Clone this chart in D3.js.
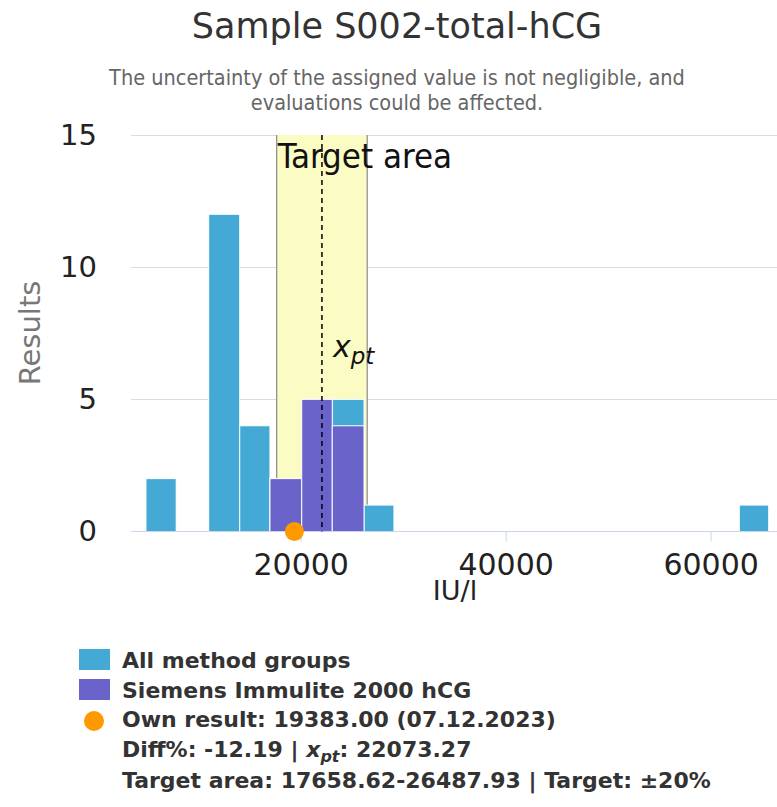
<!DOCTYPE html>
<html>
<head>
<meta charset="utf-8">
<script src="https://cdn.jsdelivr.net/npm/d3@7"></script>
<style>
  body { margin: 0; background: #fff; }
  text { font-family: "DejaVu Sans", sans-serif; }
</style>
</head>
<body>
<svg id="chart" width="777" height="807"></svg>
<script>
// histogram bins (IU/l)
const binStart = [4900, 11020, 14050, 17000, 20100, 23080, 26180, 62800];
const binEnd = [7850, 14050, 17000, 20100, 23080, 26180, 29100, 65670];
const allCounts = [2, 12, 4, 2, 5, 5, 1, 1];
const methodCounts = [0, 0, 0, 2, 5, 4, 0, 0];

const xTicks = [20000, 40000, 60000];
const yTicks = [0, 5, 10, 15];

const ownResult = 19383.0;
const xpt = 22073.27;
const targetLow = 17658.62;
const targetHigh = 26487.93;

const legendLines = [
  "All method groups",
  "Siemens Immulite 2000 hCG",
  "Own result: 19383.00 (07.12.2023)",
  "Diff%: -12.19 | XPT: 22073.27",
  "Target area: 17658.62-26487.93 | Target: ±20%"
];

const blue = "#45a9d5", purple = "#6a63c9", orange = "#ff9900";

const svg = d3.select("#chart");
svg.append("rect").attr("width", 777).attr("height", 807).attr("fill", "#fff");

const x = d3.scaleLinear().domain([3440, 66480]).range([131, 777]);
const y = d3.scaleLinear().domain([0, 15]).range([531.5, 135]);

// title + subtitle
svg.append("text")
  .attr("x", 397).attr("y", 38)
  .attr("text-anchor", "middle")
  .style("font-size", "35px").attr("fill", "#333")
  .text("Sample S002-total-hCG");

const sub = svg.append("text")
  .attr("text-anchor", "middle")
  .style("font-size", "21.5px").style("font-stretch", "condensed")
  .attr("fill", "#666");
sub.append("tspan").attr("x", 397).attr("y", 85)
  .text("The uncertainty of the assigned value is not negligible, and");
sub.append("tspan").attr("x", 397).attr("y", 110)
  .text("evaluations could be affected.");

// grid
svg.append("g")
  .selectAll("line")
  .data(yTicks.filter(d => d > 0))
  .join("line")
  .attr("x1", 131).attr("x2", 777)
  .attr("y1", d => Math.round(y(d)) + 0.5).attr("y2", d => Math.round(y(d)) + 0.5)
  .attr("stroke", "#dcdcdc");

// target area
svg.append("rect")
  .attr("x", x(targetLow)).attr("y", y(15))
  .attr("width", x(targetHigh) - x(targetLow))
  .attr("height", y(0) - y(15))
  .attr("fill", "#fbfcc4");
svg.selectAll("line.tgt")
  .data([targetLow, targetHigh])
  .join("line")
  .attr("class", "tgt")
  .attr("x1", d => x(d)).attr("x2", d => x(d))
  .attr("y1", y(15)).attr("y2", y(0))
  .attr("stroke", "#888").attr("stroke-width", 1.2);

// bars
const bins = binStart.map((s, i) => ({ s, e: binEnd[i], all: allCounts[i], m: methodCounts[i] }));
svg.append("g")
  .selectAll("rect")
  .data(bins)
  .join("rect")
  .attr("x", d => x(d.s)).attr("width", d => x(d.e) - x(d.s))
  .attr("y", d => y(d.all)).attr("height", d => y(0) - y(d.all))
  .attr("fill", blue).attr("stroke", "#fff").attr("stroke-width", 1);
svg.append("g")
  .selectAll("rect")
  .data(bins.filter(d => d.m > 0))
  .join("rect")
  .attr("x", d => x(d.s)).attr("width", d => x(d.e) - x(d.s))
  .attr("y", d => y(d.m)).attr("height", d => y(0) - y(d.m))
  .attr("fill", purple).attr("stroke", "#fff").attr("stroke-width", 1);

// x axis
const xAxis = svg.append("g")
  .attr("transform", `translate(0,${y(0)})`)
  .call(d3.axisBottom(x).tickValues(xTicks).tickSize(10).tickPadding(12).tickFormat(d3.format("d")));
xAxis.select(".domain").remove();
xAxis.selectAll("line").attr("stroke", "#ccd6eb");
xAxis.selectAll("text").style("font-size", "30px").attr("fill", "#222")
  .attr("dy", "0.71em");
svg.append("line")
  .attr("x1", 131).attr("x2", 777).attr("y1", y(0)).attr("y2", y(0))
  .attr("stroke", "#ccd6eb");

svg.append("text")
  .attr("x", 455).attr("y", 600).attr("text-anchor", "middle")
  .style("font-size", "27px").attr("fill", "#222").text("IU/l");

// y axis
const yAxis = svg.append("g")
  .attr("transform", "translate(131,0)")
  .call(d3.axisLeft(y).tickValues(yTicks).tickSize(0).tickPadding(34));
yAxis.select(".domain").remove();
yAxis.selectAll("text").style("font-size", "29px").attr("fill", "#222");

svg.append("text")
  .attr("transform", "translate(40,333) rotate(-90)")
  .attr("text-anchor", "middle")
  .style("font-size", "29px").attr("fill", "#777").text("Results");

// xpt line + labels
svg.append("line")
  .attr("x1", x(xpt)).attr("x2", x(xpt))
  .attr("y1", y(15)).attr("y2", y(0))
  .attr("stroke", "#000").attr("stroke-width", 1.5)
  .attr("stroke-dasharray", "5,4");

svg.append("text")
  .attr("x", x(targetLow) + 1).attr("y", 168)
  .style("font-size", "34.5px").style("font-stretch", "condensed")
  .attr("fill", "#111").text("Target area");

const xl = svg.append("text")
  .attr("x", 333).attr("y", 357)
  .style("font-size", "30px").attr("fill", "#111");
xl.append("tspan").style("font-style", "italic").text("x");
xl.append("tspan").style("font-style", "italic").style("font-size", "23px")
  .attr("dy", 7).text("pt");

// own result
svg.append("circle")
  .attr("cx", x(ownResult)).attr("cy", y(0)).attr("r", 9.5)
  .attr("fill", orange);

// legend
const lg = svg.append("g");
[blue, purple].forEach((c, i) => {
  lg.append("rect").attr("x", 79).attr("y", 649 + i * 30)
    .attr("width", 31).attr("height", 21).attr("fill", c);
});
lg.append("circle").attr("cx", 94).attr("cy", 721).attr("r", 10).attr("fill", orange);

const rowY = [668, 698, 727, 757, 788];
legendLines.forEach((t, i) => {
  const tx = lg.append("text").attr("x", 122).attr("y", rowY[i])
    .style("font-size", "22px").style("font-weight", "bold").attr("fill", "#333");
  if (t.includes("XPT")) {
    const [a, b] = t.split("XPT");
    tx.append("tspan").text(a);
    tx.append("tspan").style("font-style", "italic").text("x");
    tx.append("tspan").style("font-style", "italic").style("font-size", "16px")
      .attr("dy", 5).text("pt");
    tx.append("tspan").attr("dy", -5).text(b);
  } else {
    tx.text(t);
  }
});
</script>
</body>
</html>
